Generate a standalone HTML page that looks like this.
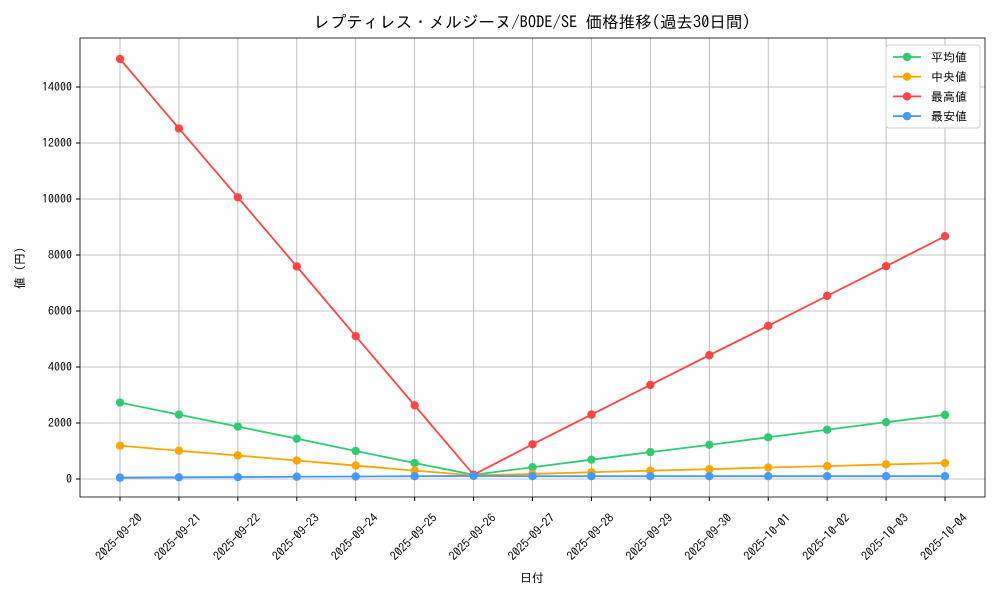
<!DOCTYPE html>
<html><head><meta charset="utf-8"><style>
body{margin:0;background:#fff;}
svg text{font-family:"IPAGothic","Noto Sans CJK JP",monospace;fill:#000;}
</style></head><body>
<svg id="chart" width="1000" height="600">
<rect width="1000" height="600" fill="#fff"/>
<text x="532" y="28" text-anchor="middle" font-size="16.5">レプティレス・メルジーヌ/BODE/SE 価格推移(過去30日間)</text>
<g id="grid"></g>
<g id="axes"></g>
<g id="series"></g>
<rect x="80" y="38" width="905" height="459" fill="none" stroke="#000" stroke-width="0.8"/>
<text x="532" y="582" text-anchor="middle" font-size="12">日付</text>
<text transform="translate(24,268) rotate(-90)" text-anchor="middle" font-size="12">値 (円)</text>
<g id="legend"></g>
</svg>
<script>
const categories=["2025-09-20","2025-09-21","2025-09-22","2025-09-23","2025-09-24","2025-09-25","2025-09-26","2025-09-27","2025-09-28","2025-09-29","2025-09-30","2025-10-01","2025-10-02","2025-10-03","2025-10-04"];
const avgValues=[2730,2300,1870,1440,1000,570,150,420,690,960,1220,1490,1760,2030,2290];
const medianValues=[1190,1010,840,660,480,300,130,180,240,300,350,410,460,520,570];
const maxValues=[15000,12520,10060,7590,5100,2630,150,1240,2300,3360,4420,5470,6540,7600,8670];
const minValues=[50,60,70,80,90,100,110,100,100,100,100,100,100,100,100];
const yTicks=[0,2000,4000,6000,8000,10000,12000,14000];
const seriesNames=["平均値","中央値","最高値","最安値"];
const seriesColors=["#2ecc71","#ffa500","#ff4444","#4499ff"];
const NS="http://www.w3.org/2000/svg";
function xs(i){return 120+i*(945-120)/(categories.length-1);}
function ys(v){return 479-v*(479-87)/14000;}
function mk(tag,attrs,parent){const e=document.createElementNS(NS,tag);for(const k in attrs)e.setAttribute(k,attrs[k]);parent.appendChild(e);return e;}
const grid=document.getElementById('grid'),axes=document.getElementById('axes'),ser=document.getElementById('series'),leg=document.getElementById('legend');
categories.forEach((c,i)=>{
  const l=mk('line',{x1:xs(i),x2:xs(i),y1:38,y2:497,stroke:'#b0b0b0','stroke-width':0.8},grid);
  
  
  mk('line',{x1:xs(i),x2:xs(i),y1:497,y2:501,stroke:'#000'},axes);
  const t=mk('text',{'font-size':12,'text-anchor':'middle',transform:`translate(${xs(i)-1},${537}) rotate(-45) translate(0,4)`},axes);
  t.textContent=c;
  
  
});
yTicks.forEach(v=>{
  const l=mk('line',{x1:80,x2:985,y1:ys(v),y2:ys(v),stroke:'#b0b0b0','stroke-width':0.8},grid);
  
  
  mk('line',{x1:76,x2:80,y1:ys(v),y2:ys(v),stroke:'#000'},axes);
  const t=mk('text',{x:72,y:ys(v)+4,'font-size':12,'text-anchor':'end'},axes);
  t.textContent=v;
  
  
});
const allSeries=[avgValues,medianValues,maxValues,minValues];
const keys=['average','median','max','min'];
allSeries.forEach((vals,s)=>{
  const p=mk('polyline',{points:vals.map((v,i)=>xs(i)+','+ys(v)).join(' '),fill:'none',stroke:seriesColors[s],'stroke-width':1.8},ser);
  
  
  vals.forEach((v,i)=>{
    const c=mk('circle',{cx:xs(i),cy:ys(v),r:4.2,fill:seriesColors[s]},ser);
    
    
  });
});
mk('rect',{x:886,y:45,width:94,height:83,fill:'#fff',stroke:'#ccc',rx:3},leg);
seriesNames.forEach((n,s)=>{
  const y=57+s*19.7;
  const g=mk('g',{},leg);
  
  
  mk('line',{x1:893,x2:921,y1:y,y2:y,stroke:seriesColors[s],'stroke-width':1.8},g);
  mk('circle',{cx:907,cy:y,r:4.2,fill:seriesColors[s]},g);
  const t=mk('text',{x:931,y:y+4.5,'font-size':12},g);
  t.textContent=n;
});
</script>
</body></html>
